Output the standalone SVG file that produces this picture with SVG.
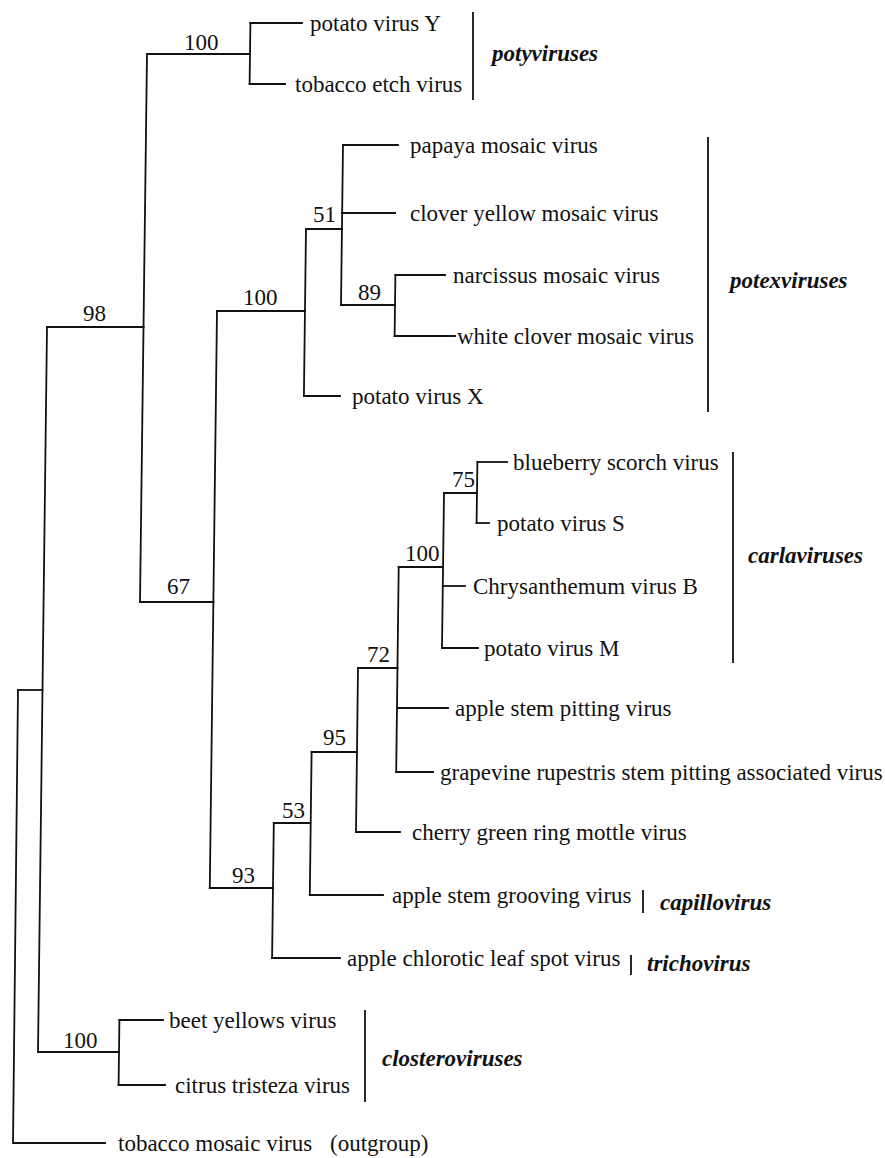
<svg xmlns="http://www.w3.org/2000/svg" width="885" height="1158" viewBox="0 0 885 1158">
<style>
.e{fill:none;stroke:#111;stroke-width:1.8;stroke-linecap:square}
.t{font-family:"Liberation Serif","Times New Roman",serif;font-size:23px;fill:#111}
.b{font-family:"Liberation Serif","Times New Roman",serif;font-size:23px;fill:#111}
.g{font-family:"Liberation Serif","Times New Roman",serif;font-size:23px;font-weight:bold;font-style:italic;fill:#111}
.br{fill:none;stroke:#111;stroke-width:1.8}
</style>
<rect width="885" height="1158" fill="#fff"/>
<g id="connectors">
<path class="e" d="M18,690 L13,1143 H105"/>
<path class="e" d="M18,690 H42.5"/>
<path class="e" d="M47,327 L38,1052"/>
<path class="e" d="M47,327 H143.6"/>
<path class="e" d="M38,1052 H119"/>
<path class="e" d="M147,54 L140,602"/>
<path class="e" d="M147,54 H250"/>
<path class="e" d="M140,602 H213.4"/>
<path class="e" d="M250.4,23 L249.6,84"/>
<path class="e" d="M250.4,23 H302"/>
<path class="e" d="M249.6,84 H285"/>
<path class="e" d="M217,311 L209.8,888"/>
<path class="e" d="M217,311 H305"/>
<path class="e" d="M209.8,888 H273"/>
<path class="e" d="M306,229 L303.9,396"/>
<path class="e" d="M306,229 H342"/>
<path class="e" d="M303.9,396 H340"/>
<path class="e" d="M343,145 L341,305"/>
<path class="e" d="M343,145 H398"/>
<path class="e" d="M342,213 H395"/>
<path class="e" d="M341,305 H395"/>
<path class="e" d="M395.4,275 L394.6,336"/>
<path class="e" d="M395.4,275 H445"/>
<path class="e" d="M394.6,336 H455"/>
<path class="e" d="M273.8,823 L272.1,958"/>
<path class="e" d="M273.8,823 H310.2"/>
<path class="e" d="M272.1,958 H340"/>
<path class="e" d="M311.6,752 L309.8,895"/>
<path class="e" d="M311.6,752 H357"/>
<path class="e" d="M309.8,895 H383"/>
<path class="e" d="M358,668 L356,832"/>
<path class="e" d="M358,668 H397.5"/>
<path class="e" d="M356,832 H400"/>
<path class="e" d="M398.7,567 L396.2,772"/>
<path class="e" d="M398.7,567 H443"/>
<path class="e" d="M397.2,708 H448"/>
<path class="e" d="M396.2,772 H433"/>
<path class="e" d="M444,493 L442,648"/>
<path class="e" d="M444,493 H477"/>
<path class="e" d="M443,586 H465"/>
<path class="e" d="M442,648 H478"/>
<path class="e" d="M477.4,462 L476.6,523"/>
<path class="e" d="M477.4,462 H507"/>
<path class="e" d="M476.6,523 H489"/>
<path class="e" d="M119.4,1020 L118.6,1085"/>
<path class="e" d="M119.4,1020 H163"/>
<path class="e" d="M118.6,1085 H165"/>
</g>
<g id="node-b98"><text class="b" x="83" y="321">98</text></g>
<g id="node-b100-poty"><text class="b" x="184" y="50">100</text></g>
<g id="node-b67"><text class="b" x="167" y="594">67</text></g>
<g id="node-b100-potex"><text class="b" x="243" y="305">100</text></g>
<g id="node-b51"><text class="b" x="313" y="222">51</text></g>
<g id="node-b89"><text class="b" x="358" y="300">89</text></g>
<g id="node-b93"><text class="b" x="232" y="883">93</text></g>
<g id="node-b53"><text class="b" x="282" y="818">53</text></g>
<g id="node-b95"><text class="b" x="323" y="745">95</text></g>
<g id="node-b72"><text class="b" x="367" y="662">72</text></g>
<g id="node-b100-carla"><text class="b" x="405" y="561">100</text></g>
<g id="node-b75"><text class="b" x="452" y="487">75</text></g>
<g id="node-b100-clostero"><text class="b" x="63" y="1048">100</text></g>
<g id="leaf-pvy"><text class="t" x="310" y="31">potato virus Y</text></g>
<g id="leaf-tev"><text class="t" x="295" y="92">tobacco etch virus</text></g>
<g id="leaf-papmv"><text class="t" x="410" y="153">papaya mosaic virus</text></g>
<g id="leaf-clymv"><text class="t" x="410" y="221">clover yellow mosaic virus</text></g>
<g id="leaf-namv"><text class="t" x="453" y="283">narcissus mosaic virus</text></g>
<g id="leaf-wclmv"><text class="t" x="457" y="344">white clover mosaic virus</text></g>
<g id="leaf-pvx"><text class="t" x="352" y="404">potato virus X</text></g>
<g id="leaf-bbscv"><text class="t" x="513" y="470">blueberry scorch virus</text></g>
<g id="leaf-pvs"><text class="t" x="497" y="531">potato virus S</text></g>
<g id="leaf-cvb"><text class="t" x="473" y="594">Chrysanthemum virus B</text></g>
<g id="leaf-pvm"><text class="t" x="484" y="656">potato virus M</text></g>
<g id="leaf-aspv"><text class="t" x="455" y="716">apple stem pitting virus</text></g>
<g id="leaf-grspav"><text class="t" x="440" y="780">grapevine rupestris stem pitting associated virus</text></g>
<g id="leaf-cgrmv"><text class="t" x="412" y="840">cherry green ring mottle virus</text></g>
<g id="leaf-asgv"><text class="t" x="392" y="903">apple stem grooving virus</text></g>
<g id="leaf-aclsv"><text class="t" x="347" y="966">apple chlorotic leaf spot virus</text></g>
<g id="leaf-byv"><text class="t" x="169" y="1028">beet yellows virus</text></g>
<g id="leaf-ctv"><text class="t" x="175" y="1093">citrus tristeza virus</text></g>
<g id="leaf-tmv"><text class="t" x="118" y="1151">tobacco mosaic virus</text><text class="t" x="330" y="1151">(outgroup)</text></g>
<g id="clade-potyviruses"><path class="br" d="M473,12 V100"/><text class="g" x="492" y="61">potyviruses</text></g>
<g id="clade-potexviruses"><path class="br" d="M708,137 V412"/><text class="g" x="730" y="288">potexviruses</text></g>
<g id="clade-carlaviruses"><path class="br" d="M733,452 V663"/><text class="g" x="748" y="563">carlaviruses</text></g>
<g id="clade-capillovirus"><path class="br" d="M643,890 V913"/><text class="g" x="660" y="910">capillovirus</text></g>
<g id="clade-trichovirus"><path class="br" d="M631,955 V975"/><text class="g" x="647" y="971">trichovirus</text></g>
<g id="clade-closteroviruses"><path class="br" d="M365,1010 V1102"/><text class="g" x="382" y="1066">closteroviruses</text></g>
</svg>
